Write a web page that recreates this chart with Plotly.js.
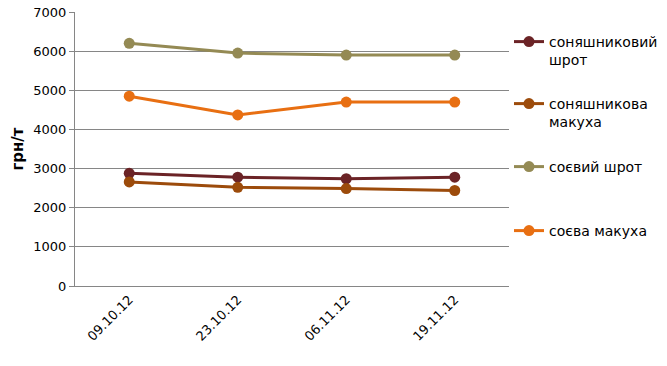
<!DOCTYPE html>
<html>
<head>
<meta charset="utf-8">
<script src="https://cdn.plot.ly/plotly-3.0.1.min.js"></script>
<style>html,body{margin:0;padding:0;background:#fff;}#chart{width:667px;height:366px;}</style>
</head>
<body>
<div id="chart"></div>
<script>
const dates = ["09.10.12", "23.10.12", "06.11.12", "19.11.12"];
const sunflowerMeal = [2880, 2780, 2740, 2780];
const sunflowerCake = [2660, 2520, 2490, 2440];
const soyMeal = [6200, 5950, 5900, 5900];
const soyCake = [4850, 4370, 4700, 4700];
const seriesNames = ["соняшниковий<br>шрот", "соняшникова<br>макуха", "соєвий шрот", "соєва макуха"];
const seriesColors = ["#6B2326", "#9C4B0B", "#948A54", "#E86F12"];
const yTicks = [0, 1000, 2000, 3000, 4000, 5000, 6000, 7000];

const allValues = [sunflowerMeal, sunflowerCake, soyMeal, soyCake];
const legendIds = ["legend", "legend2", "legend3", "legend4"];
const legendTops = [26, 88, 151, 215];

const font = "DejaVu Sans, Verdana, sans-serif";
const traces = allValues.map((vals, i) => ({
  type: "scatter",
  mode: "lines+markers",
  x: dates,
  y: vals,
  name: seriesNames[i],
  legend: legendIds[i],
  line: {color: seriesColors[i], width: 3},
  marker: {color: seriesColors[i], size: 11}
}));

const layout = {
  width: 667,
  height: 366,
  margin: {l: 75, r: 155, t: 12, b: 80},
  paper_bgcolor: "#fff",
  plot_bgcolor: "#fff",
  font: {family: font, size: 13, color: "#000"},
  showlegend: true,
  xaxis: {
    type: "category",
    range: [-0.5, 3.5],
    tickangle: -45,
    showgrid: false,
    showline: true,
    linecolor: "#868686",
    linewidth: 1,
    ticks: "",
    tickfont: {family: font, size: 13, color: "#000"},
    zeroline: false
  },
  yaxis: {
    range: [0, 7000],
    tickvals: yTicks,
    ticktext: yTicks.map(String),
    showgrid: true,
    gridcolor: "#868686",
    gridwidth: 1,
    showline: true,
    linecolor: "#868686",
    linewidth: 1,
    ticks: "outside",
    ticklen: 5,
    tickcolor: "#868686",
    tickfont: {family: font, size: 13, color: "#000"},
    zeroline: false,
    title: {text: "грн/т", font: {family: font, size: 15, color: "#000", weight: "bold"}, standoff: 6}
  }
};
legendIds.forEach((id, i) => {
  layout[id] = {
    xref: "container", yref: "container",
    x: 509 / 667, y: 1 - legendTops[i] / 366,
    xanchor: "left", yanchor: "top",
    valign: "top",
    bgcolor: "rgba(0,0,0,0)",
    font: {family: font, size: 14, color: "#000"},
    itemwidth: 30,
    tracegroupgap: 0
  };
});

Plotly.newPlot("chart", traces, layout, {displayModeBar: false, staticPlot: true});
</script>
</body>
</html>
